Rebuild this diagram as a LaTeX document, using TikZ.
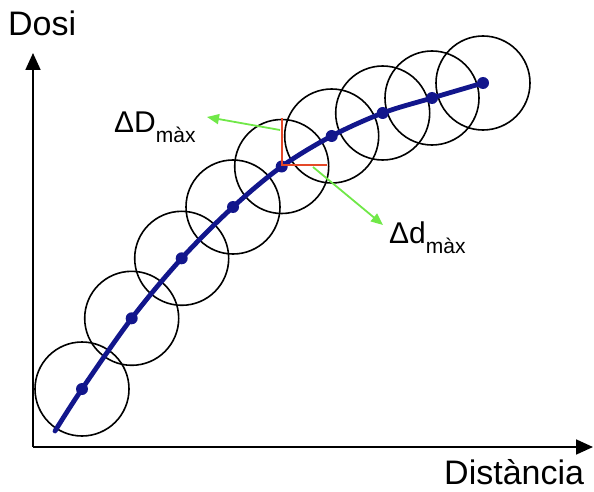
\documentclass[tikz,border=0pt]{standalone}
\usepackage{fontspec}
\setmainfont{Liberation Sans}
\usetikzlibrary{arrows.meta}
\definecolor{curveblue}{RGB}{18,22,140}
\definecolor{cornerred}{RGB}{228,72,40}
\definecolor{arrowgreen}{RGB}{112,232,72}
\tikzset{
  axisline/.style={line width=1.8pt,-{Triangle[length=17pt,width=15pt]}},
  ring/.style={circle,draw=black,line width=1.6pt,minimum size=94pt,inner sep=0pt},
  dotnode/.style={circle,fill=curveblue,minimum size=12pt,inner sep=0pt},
  greenarrow/.style={draw=arrowgreen,line width=1.8pt,-{Triangle[length=12pt,width=10pt]}},
  lbl/.style={inner sep=0pt,anchor=base west,font=\fontsize{34}{34}\selectfont},
}
\begin{document}
\begin{tikzpicture}[x=1pt,y=-1pt]
\useasboundingbox (0,0) rectangle (594,492);
% points
\coordinate (p0) at (55,431);
\coordinate (p1) at (82,389);
\coordinate (p2) at (131.7,318.3);
\coordinate (p3) at (181.7,258.3);
\coordinate (p4) at (233,207);
\coordinate (p5) at (281.7,166.5);
\coordinate (p6) at (331.7,136);
\coordinate (p7) at (382.7,113);
\coordinate (p8) at (432,98);
\coordinate (p9) at (483,83);
% axes
\coordinate (o) at (33,447);
\coordinate (ytip) at (33,53);
\coordinate (xtip) at (593,447);
\draw[axisline] (o) -- (ytip);
\draw[axisline] (o) -- (xtip);
% circles
\foreach \i in {1,...,9} \node[ring] (c\i) at (p\i) {};
% curve
\draw[curveblue,line width=4.8pt,line cap=round]
  plot[smooth,tension=0.55] coordinates {(p0) (p1) (p2) (p3) (p4) (p5) (p6) (p7) (p8) (p9)};
\foreach \i in {1,...,9} \node[dotnode] (d\i) at (p\i) {};
% red corner
\coordinate (rtop) at (281.7,118);
\coordinate (rright) at (327,165);
\draw[cornerred,line width=1.6pt] (rtop) |- (rright);
% green arrows
\coordinate (g1s) at (280,130);
\coordinate (g1e) at (207,117);
\coordinate (g2s) at (313,167);
\coordinate (g2e) at (383,225);
\draw[greenarrow] (g1s) -- (g1e);
\draw[greenarrow] (g2s) -- (g2e);
% labels
\node[lbl] (dosi) at (8,36) {Dosi};
\node[lbl] (dist) at (444,484) {Distància};
\node[inner sep=0pt,anchor=base west] (dDmax) at (114,132)
  {\fontsize{30}{30}\selectfont ΔD\raisebox{-10pt}{\fontsize{21}{21}\selectfont màx}};
\node[inner sep=0pt,anchor=base west] (ddmax) at (389,243)
  {\fontsize{30}{30}\selectfont Δd\raisebox{-10pt}{\fontsize{21}{21}\selectfont màx}};
\end{tikzpicture}
\end{document}
